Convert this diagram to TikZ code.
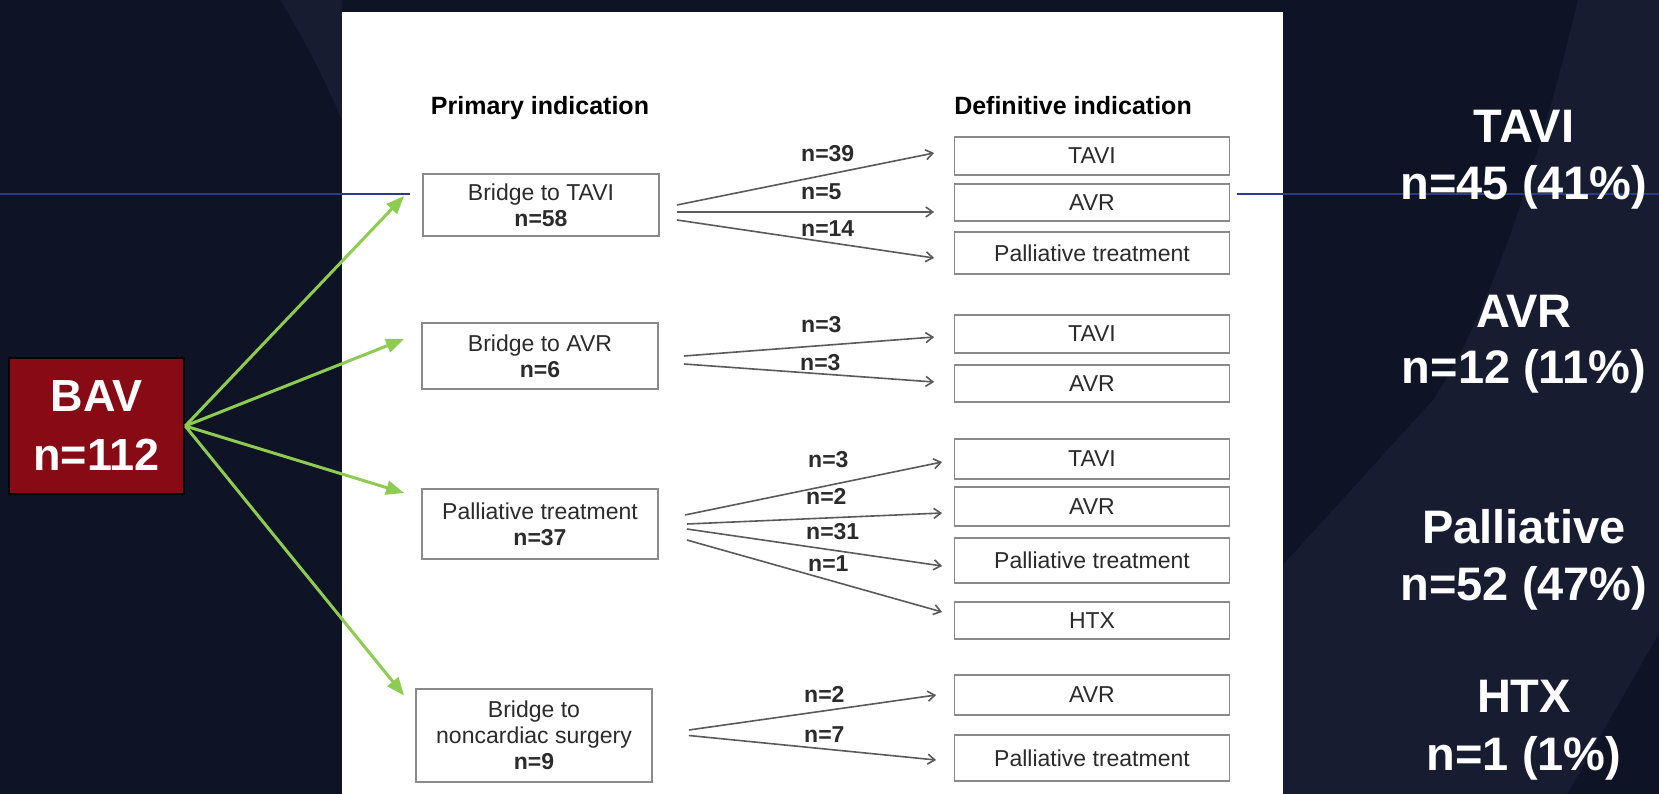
\documentclass[tikz,border=0pt]{standalone}
\usepackage{fontspec}
\setmainfont{Liberation Sans}
\usetikzlibrary{arrows.meta,calc}
\definecolor{slidebg}{HTML}{0F1326}
\definecolor{slidelt}{HTML}{181C31}
\definecolor{bavred}{HTML}{870A14}
\definecolor{bavgreen}{HTML}{8DCC50}
\definecolor{rulecol}{HTML}{2C3A8A}
\definecolor{boxgray}{HTML}{8A8A8A}
\definecolor{boxtext}{HTML}{2B2B2B}
\definecolor{fangray}{HTML}{5A5A5A}
\begin{document}
\begin{tikzpicture}[x=1pt,y=-1pt,
  primbox/.style={draw=boxgray,line width=1.8pt,fill=white,minimum width=236pt,inner sep=0pt,align=center,text=boxtext,font=\fontsize{23}{26}\selectfont},
  defbox/.style={draw=boxgray,line width=1.8pt,minimum width=275pt,inner sep=0pt,text=boxtext,font=\fontsize{23}{26}\selectfont},
  cnt/.style={anchor=base west,inner sep=0pt,text=boxtext,font=\bfseries\fontsize{23}{26}\selectfont},
  head/.style={anchor=base,inner sep=0pt,text=black,font=\bfseries\fontsize{25}{28}\selectfont},
  sumtxt/.style={anchor=base,inner sep=0pt,text=white,font=\bfseries\fontsize{47}{50}\selectfont},
  fan/.style={draw=fangray,line width=1.6pt,-{Straight Barb[length=7pt,width=10pt]}},
  spread/.style={draw=bavgreen,line width=3pt,-{Triangle[length=18pt,width=14pt]}}]
\fill[slidebg] (0,0) rectangle (1659,794);
\useasboundingbox (0,0) rectangle (1659,794);
\fill[slidelt] (280,0) .. controls (305,40) and (325,80) .. (342,120) -- (342,0) -- cycle;
\fill[slidelt] (1578,0) .. controls (1530,200) and (1480,330) .. (1433,400) -- (1283,565) -- (1283,794) -- (1567,794) -- (1659,633) -- (1659,0) -- cycle;
\fill[white] (342,12) rectangle (1283,794);
\draw[rulecol,line width=1.5pt] (0,194) -- (410,194);
\draw[rulecol,line width=1.5pt] (1237,194) -- (1659,194);

\node[draw=black,line width=2.5pt,fill=bavred,minimum width=175pt,minimum height=136pt,inner sep=0pt,align=center,text=white,font=\bfseries\fontsize{45}{59}\selectfont] (bav) at (96.5,426) {BAV\\n=112};

\node[head] (h1) at (540,115) {Primary indication};
\node[head] (h2) at (1073,115) {Definitive indication};

\node[primbox,minimum height=62pt] (p1) at (541,205) {Bridge to TAVI\\\textbf{n=58}};
\node[primbox,minimum height=66pt] (p2) at (540,356) {Bridge to AVR\\\textbf{n=6}};
\node[primbox,minimum height=70pt] (p3) at (540,524) {Palliative treatment\\\textbf{n=37}};
\node[primbox,minimum height=93pt] (p4) at (534,735.5) {Bridge to\\noncardiac surgery\\\textbf{n=9}};

\foreach \n/\y/\h/\t in {d1/156/38/TAVI, d2/202.5/37/AVR, d3/253/42/Palliative treatment,
  d4/334/38/TAVI, d5/383.5/37/AVR,
  d6/459/40/TAVI, d7/506.5/39/AVR, d8/560.5/45/Palliative treatment, d9/620.5/37/HTX,
  d10/695/40/AVR, d11/758/46/Palliative treatment}
  \node[defbox,minimum height=\h pt] (\n) at (1092,\y) {\t};

\draw[spread] (bav.east) -- ($(p1.west)+(-18,-9)$);
\draw[spread] (bav.east) -- ($(p2.west)+(-17,-17)$);
\draw[spread] (bav.east) -- ($(p3.west)+(-17,-31)$);
\draw[spread] (bav.east) -- ($(p4.west)+(-11,-40)$);

\foreach \a/\sx/\sy/\b/\ex/\ey in {p1/17/0/d1/-19.5/-3, p1/17/7/d2/-19.5/9.5, p1/17/15/d3/-19.5/5,
  p2/25/0/d4/-19.5/3, p2/25/8/d5/-19.5/-1.5,
  p3/26/-9/d6/-11.5/3, p3/28/0/d7/-11.5/6.5, p3/28/5/d8/-11.5/5.5, p3/28/16/d9/-11.5/-8.5,
  p4/36/-5.5/d10/-17.5/0, p4/36/0/d11/-17.5/2}
  \draw[fan] ($(\a.east)+(\sx,\sy)$) -- ($(\b.west)+(\ex,\ey)$);

\foreach \n/\x/\y/\t in {c1/801/162/39, c2/801/200/5, c3/801/237/14, c4/801/332/3, c5/800/370/3,
  c6/808/467/3, c7/806/504/2, c8/806/539/31, c9/808/571/1, c10/804/702/2, c11/804/742/7}
  \node[cnt] (\n) at (\x,\y) {n=\t};

\foreach \n/\y/\t in {s1/143/TAVI, s2/200/{n=45 (41\%)}, s3/327/AVR, s4/383/{n=12 (11\%)},
  s5/543/Palliative, s6/600/{n=52 (47\%)}, s7/712/HTX, s8/770/{n=1 (1\%)}}
  \node[sumtxt] (\n) at (1524,\y) {\t};
\end{tikzpicture}
\end{document}
